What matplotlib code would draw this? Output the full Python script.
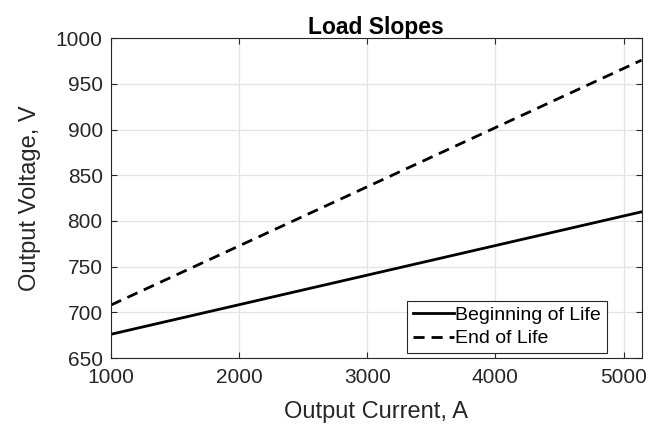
import matplotlib.pyplot as plt

# load slope end points
current = [1000, 5140]
v_bol = [676, 810]
v_eol = [708, 976]
x_ticks = [1000, 2000, 3000, 4000, 5000]
y_ticks = [650, 700, 750, 800, 850, 900, 950, 1000]

plt.rcParams['font.family'] = ['Liberation Sans', 'DejaVu Sans']

fig = plt.figure(figsize=(6.48, 4.25), dpi=100)
ax = fig.add_axes([0.1713, 0.1576, 0.8187, 0.7524])

ax.plot(current, v_bol, color='black', linewidth=2, label='Beginning of Life')
ax.plot(current, v_eol, color='black', linewidth=2, linestyle=(0, (4, 2.5)), label='End of Life')

ax.set_xlim(1000, 5140)
ax.set_ylim(650, 1000)
ax.set_xticks(x_ticks)
ax.set_yticks(y_ticks)
ax.grid(True, color='#e3e3e3', linewidth=0.9)
ax.set_axisbelow(True)

ax.tick_params(direction='in', top=True, right=True, length=4, width=0.8,
               colors='#262626', labelsize=15)
ax.tick_params(axis='x', pad=7)
ax.tick_params(axis='y', pad=6)
for s in ax.spines.values():
    s.set_color('#262626')
    s.set_linewidth(0.8)

ax.set_xlabel('Output Current, A', fontsize=17, color='#262626', labelpad=10)
ax.set_ylabel('Output Voltage, V', fontsize=17, color='#262626', labelpad=11)
ax.set_title('Load Slopes', fontsize=16.5, fontweight='bold', pad=3)

leg = ax.legend(loc='lower right', bbox_to_anchor=(0.935, 0.0147), borderaxespad=0,
                fontsize=14, handlelength=2.1, handletextpad=0.1, labelspacing=0.3,
                borderpad=0.3, fancybox=False, framealpha=1, edgecolor='#262626')
leg.get_frame().set_linewidth(0.8)

fig.savefig('out.png', dpi=100)
